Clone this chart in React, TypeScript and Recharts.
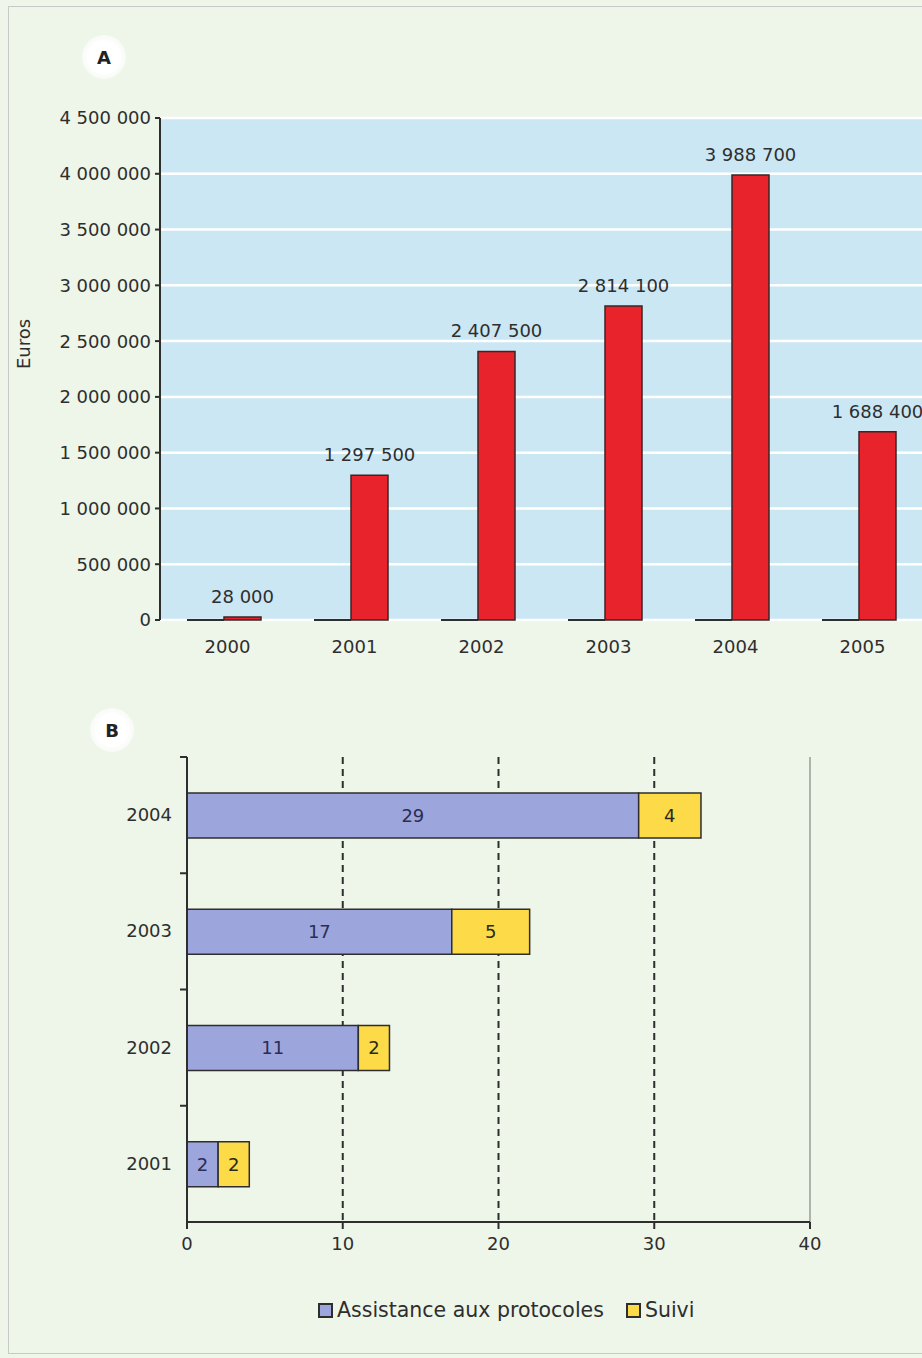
import React from 'react';
import {
  BarChart, Bar, XAxis, YAxis, CartesianGrid, LabelList, ReferenceLine,
} from 'recharts';

// Panel A: budget per year (euros)
const yearsA = ['2000', '2001', '2002', '2003', '2004', '2005'];
const otherValues = [0, 0, 0, 0, 0, 0];
const euroValues = [28000, 1297500, 2407500, 2814100, 3988700, 1688400];
const euroTicks = [0, 500000, 1000000, 1500000, 2000000, 2500000, 3000000, 3500000, 4000000, 4500000];

// Panel B: number of protocols per year
const yearsB = ['2004', '2003', '2002', '2001'];
const assistance = [29, 17, 11, 2];
const suivi = [4, 5, 2, 2];
const countTicks = [0, 10, 20, 30, 40];
const dashedTicks = [10, 20, 30];

const FONT = '"DejaVu Sans", "Liberation Sans", sans-serif';
const INK = '#2e2e2e';

const dataA = yearsA.map((year, i) => ({ year, other: otherValues[i], euros: euroValues[i] }));
const dataB = yearsB.map((year, i) => ({ year, assistance: assistance[i], suivi: suivi[i] }));

const spaced = (v: number) => String(v).replace(/\B(?=(\d{3})+(?!\d))/g, ' ');

// zero-height bars still show as a dark line on the baseline
const FlatBar = (props: any) => {
  const { x, y, width, height } = props;
  const yy = y + (height || 0);
  return <line x1={x} x2={x + width} y1={yy} y2={yy} stroke={INK} strokeWidth={2} />;
};

const TopValue = (props: any) => {
  const { x, y, width, value } = props;
  return (
    <text x={Number(x) + Number(width) / 2} y={Number(y) - 14} textAnchor="middle"
      fontSize={18} fill={INK} fontFamily={FONT}>
      {spaced(Number(value))}
    </text>
  );
};

const YearTickB = (props: any) => {
  const { x, y, payload } = props;
  const half = payload?.offset || 58;
  const axisX = x + 15;
  return (
    <g>
      <line x1={axisX - 7} x2={axisX} y1={y - half} y2={y - half} stroke={INK} strokeWidth={2} />
      <text x={x} y={y} dy={6} textAnchor="end" fontSize={18} fill={INK} fontFamily={FONT}>
        {payload.value}
      </text>
    </g>
  );
};

const Badge = ({ x, y, text }: { x: number; y: number; text: string }) => (
  <div style={{
    position: 'absolute', left: x - 22, top: y - 22, width: 44, height: 44, borderRadius: 22,
    background: 'radial-gradient(circle, #ffffff 50%, rgba(255,255,255,0) 100%)',
    display: 'flex', alignItems: 'center', justifyContent: 'center',
    fontFamily: FONT, fontWeight: 700, fontSize: 18, color: '#222',
  }}>{text}</div>
);

const LegendSwatch = ({ color, label }: { color: string; label: string }) => (
  <span style={{ display: 'inline-flex', alignItems: 'center', marginRight: 22 }}>
    <span style={{ width: 11, height: 11, background: color, border: `2px solid ${INK}`, marginRight: 4 }} />
    <span>{label}</span>
  </span>
);

export default function App() {
  return (
    <div style={{ position: 'absolute', left: 0, top: 0, width: 922, height: 1358, background: '#eef5e9', overflow: 'hidden', fontFamily: FONT }}>
      <div style={{ position: 'absolute', left: 8, top: 6, width: 930, height: 1348, border: '1.5px solid #c6c9c4', boxSizing: 'border-box' }} />

      <Badge x={104} y={57} text="A" />
      <div style={{ position: 'absolute', left: 0, top: 0 }}>
        <BarChart width={922} height={680} data={dataA} margin={{ top: 118, right: 0, left: 0, bottom: 30 }}
          barCategoryGap={27} barGap={0}>
          <CartesianGrid vertical={false} fill="#cbe7f4" stroke="#ffffff" strokeWidth={2.5} />
          <XAxis dataKey="year" height={30} axisLine={false} tickLine={false} interval={0}
            tick={{ fontSize: 18, fill: INK, fontFamily: FONT, dx: 4 }} tickMargin={14} />
          <YAxis width={160} domain={[0, 4500000]} ticks={euroTicks} tickFormatter={spaced}
            axisLine={{ stroke: INK, strokeWidth: 2 }} tickLine={{ stroke: INK, strokeWidth: 2 }} tickSize={5} tickMargin={4}
            tick={{ fontSize: 18, fill: INK, fontFamily: FONT }}
            label={{ value: 'Euros', angle: -90, position: 'insideLeft', offset: 24, fontSize: 18, fill: INK, fontFamily: FONT }} />
          <Bar dataKey="other" fill={INK} shape={<FlatBar />} isAnimationActive={false} />
          <Bar dataKey="euros" fill="#e8232b" stroke="#3a2626" strokeWidth={1.5} isAnimationActive={false}>
            <LabelList dataKey="euros" content={<TopValue />} />
          </Bar>
        </BarChart>
      </div>

      <Badge x={112} y={730} text="B" />
      <div style={{ position: 'absolute', left: 0, top: 700 }}>
        <BarChart width={922} height={580} data={dataB} layout="vertical"
          margin={{ top: 57, right: 112, left: 0, bottom: 28 }} barSize={45}>
          <CartesianGrid horizontal={false} verticalValues={dashedTicks} stroke={INK} strokeWidth={2} strokeDasharray="7 5" />
          <XAxis type="number" domain={[0, 40]} ticks={countTicks} height={30}
            axisLine={{ stroke: INK, strokeWidth: 2 }} tickLine={{ stroke: INK, strokeWidth: 2 }} tickSize={7} tickMargin={8}
            tick={{ fontSize: 18, fill: INK, fontFamily: FONT }} />
          <XAxis xAxisId="top" orientation="top" type="number" domain={[0, 40]} height={0}
            axisLine={{ stroke: '#9a9d98', strokeWidth: 1.5 }} tick={false} tickLine={false} />
          <YAxis type="category" dataKey="year" width={187} tickSize={6} tickMargin={9}
            axisLine={{ stroke: INK, strokeWidth: 2 }} tickLine={false} tick={<YearTickB />} />
          <ReferenceLine x={40} stroke="#9a9d98" strokeWidth={1.5} />
          <Bar dataKey="assistance" stackId="s" fill="#9da6dc" stroke={INK} strokeWidth={1.5} isAnimationActive={false}>
            <LabelList dataKey="assistance" position="center" style={{ fontSize: 18, fill: '#2a2d55', fontFamily: FONT }} />
          </Bar>
          <Bar dataKey="suivi" stackId="s" fill="#fcda48" stroke={INK} strokeWidth={1.5} isAnimationActive={false}>
            <LabelList dataKey="suivi" position="center" style={{ fontSize: 18, fill: '#2a2a1a', fontFamily: FONT }} />
          </Bar>
        </BarChart>
      </div>

      <div style={{ position: 'absolute', left: 318, top: 1298, fontSize: 20.5, color: INK, display: 'flex', alignItems: 'center' }}>
        <LegendSwatch color="#9da6dc" label="Assistance aux protocoles" />
        <LegendSwatch color="#fcda48" label="Suivi" />
      </div>
    </div>
  );
}
